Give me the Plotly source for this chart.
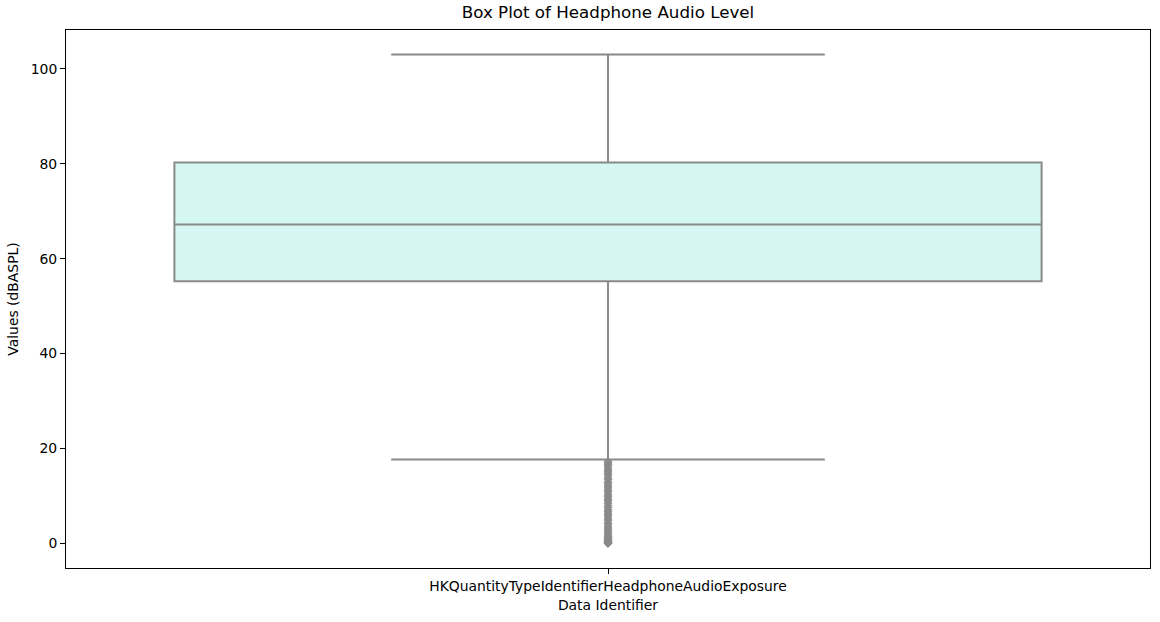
import plotly.graph_objects as go

categories = ["HKQuantityTypeIdentifierHeadphoneAudioExposure"]
q1 = [55.25]
median = [67.2]
q3 = [80.25]
lower_whisker = [17.7]
upper_whisker = [103.0]
outliers = [0.0, 0.1, 0.2, 0.4, 0.6, 0.9, 1.2, 1.5, 1.9, 2.3, 2.7, 3.1, 3.5, 4.0,
            4.4, 4.9, 5.3, 5.8, 6.2, 6.7, 7.1, 7.6, 8.0, 8.5, 9.0, 9.4, 9.9, 10.3,
            10.8, 11.2, 11.7, 12.1, 12.6, 13.0, 13.5, 13.9, 14.4, 14.8, 15.3,
            15.7, 16.2, 16.6, 17.0, 17.3]

line_col = "#8a8a8a"
font = dict(family="DejaVu Sans", size=13.9, color="black")

fig = go.Figure()
fig.add_trace(go.Box(
    x=categories, q1=q1, median=median, q3=q3,
    lowerfence=lower_whisker, upperfence=upper_whisker,
    fillcolor="rgb(212,247,244)", line=dict(color=line_col, width=2),
    width=0.8, whiskerwidth=0.5, boxpoints=False, showlegend=False,
    hoverinfo="skip",
))
fig.add_trace(go.Scatter(
    x=categories * len(outliers), y=outliers, mode="markers",
    marker=dict(symbol="diamond", size=6, color=line_col,
                line=dict(color=line_col, width=1)),
    showlegend=False,
))

fig.update_layout(
    width=1160, height=622,
    margin=dict(l=66, r=10, t=30, b=54),
    plot_bgcolor="white", paper_bgcolor="white",
    font=font,
    title=dict(text="Box Plot of Headphone Audio Level", x=0.5, xref="paper",
               xanchor="center", y=1 - 12/622, yanchor="middle",
               font=dict(family="DejaVu Sans", size=16.7, color="black")),
    xaxis=dict(
        title=dict(text="Data Identifier", standoff=7, font=font),
        range=[-0.5, 0.5], showgrid=False, zeroline=False,
        showline=True, linecolor="black", linewidth=1, mirror=True,
        ticks="outside", ticklen=5, tickcolor="black", tickfont=font,
    ),
    yaxis=dict(
        title=dict(text="Values (dBASPL)", standoff=8, font=font),
        range=[-5.15, 108.15], tickvals=[0, 20, 40, 60, 80, 100],
        showgrid=False, zeroline=False,
        showline=True, linecolor="black", linewidth=1, mirror=True,
        ticks="outside", ticklen=5, tickcolor="black", tickfont=font,
    ),
)

fig.write_html("out.html")
